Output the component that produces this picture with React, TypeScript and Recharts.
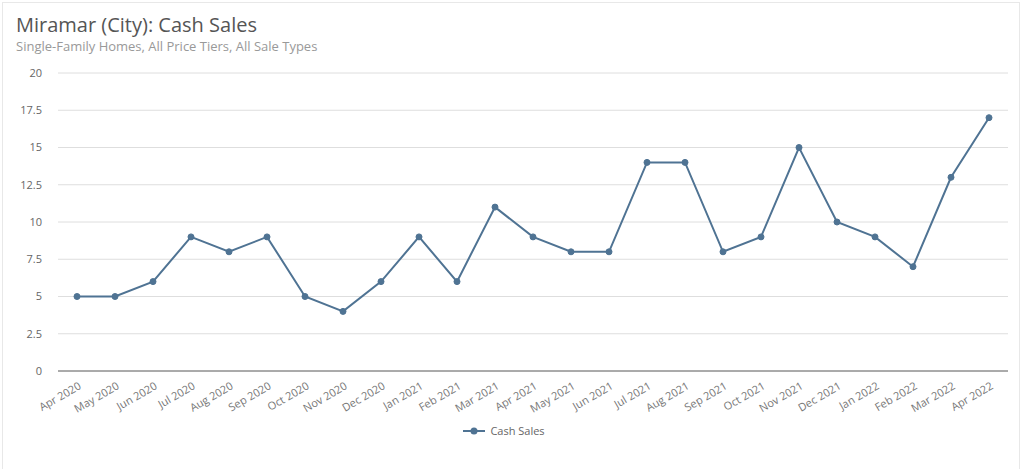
import React from "react";
import { LineChart, Line, XAxis, YAxis, CartesianGrid, Legend } from "recharts";

const months = [
  "Apr 2020", "May 2020", "Jun 2020", "Jul 2020", "Aug 2020", "Sep 2020", "Oct 2020", "Nov 2020", "Dec 2020",
  "Jan 2021", "Feb 2021", "Mar 2021", "Apr 2021", "May 2021", "Jun 2021", "Jul 2021", "Aug 2021", "Sep 2021",
  "Oct 2021", "Nov 2021", "Dec 2021", "Jan 2022", "Feb 2022", "Mar 2022", "Apr 2022",
];
const cashSales = [5, 5, 6, 9, 8, 9, 5, 4, 6, 9, 6, 11, 9, 8, 8, 14, 14, 8, 9, 15, 10, 9, 7, 13, 17];
const yTicks = [0, 2.5, 5, 7.5, 10, 12.5, 15, 17.5, 20];

const data = months.map((m, i) => ({ month: m, value: cashSales[i] }));

const COLOR = "#4f7393";
const FONT = "'Open Sans', 'Noto Sans', sans-serif";

const XTick = (props: any) => {
  const { x, y, payload } = props;
  return (
    <g transform={`translate(${x + 2},${y + 4})`}>
      <text
        x={0}
        y={0}
        dy={6}
        textAnchor="end"
        fill="#777"
        fontSize={11}
        fontFamily={FONT}
        transform="rotate(-30)"
      >
        {payload.value}
      </text>
    </g>
  );
};

const LegendContent = () => (
  <div style={{ display: "flex", justifyContent: "center", alignItems: "center", fontFamily: FONT, fontSize: 11, color: "#666" }}>
    <svg width={22} height={10} style={{ marginRight: 5 }}>
      <line x1={0} y1={5} x2={22} y2={5} stroke={COLOR} strokeWidth={2} />
      <circle cx={11} cy={5} r={3.5} fill={COLOR} />
    </svg>
    <span>Cash Sales</span>
  </div>
);

export default function App() {
  return (
    <div
      style={{
        position: "absolute",
        top: 0,
        left: 0,
        width: 1024,
        height: 469,
        background: "#fff",
        fontFamily: FONT,
      }}
    >
      <div style={{ position: "absolute", left: 2, top: 2, width: 1018, height: 480, border: "1px solid #e8e8e8", boxSizing: "border-box" }} />
      <div style={{ position: "absolute", left: 16, top: 11, fontSize: 20, color: "#555", whiteSpace: "nowrap" }}>
        Miramar (City): Cash Sales
      </div>
      <div style={{ position: "absolute", left: 16, top: 37, fontSize: 13, color: "#999", whiteSpace: "nowrap" }}>
        Single-Family Homes, All Price Tiers, All Sale Types
      </div>
      <div style={{ position: "absolute", left: 0, top: 0 }}>
        <LineChart width={1024} height={469} data={data} margin={{ top: 73, right: 16, bottom: 26, left: 0 }}>
          <CartesianGrid vertical={false} stroke="#dedede" />
          <XAxis
            dataKey="month"
            interval={0}
            padding={{ left: 19, right: 19 }}
            tick={<XTick />}
            tickLine={false}
            axisLine={{ stroke: "#666" }}
            height={52}
          />
          <YAxis
            domain={[0, 20]}
            ticks={yTicks}
            width={58}
            tickLine={false}
            axisLine={false}
            tickMargin={10}
            tick={{ fill: "#666", fontSize: 11, fontFamily: FONT }}
          />
          <Legend content={<LegendContent />} verticalAlign="bottom" height={20} />
          <Line
            type="linear"
            dataKey="value"
            name="Cash Sales"
            stroke={COLOR}
            strokeWidth={2}
            dot={{ r: 3, fill: COLOR, stroke: COLOR, strokeWidth: 1 }}
            isAnimationActive={false}
          />
        </LineChart>
      </div>
    </div>
  );
}
